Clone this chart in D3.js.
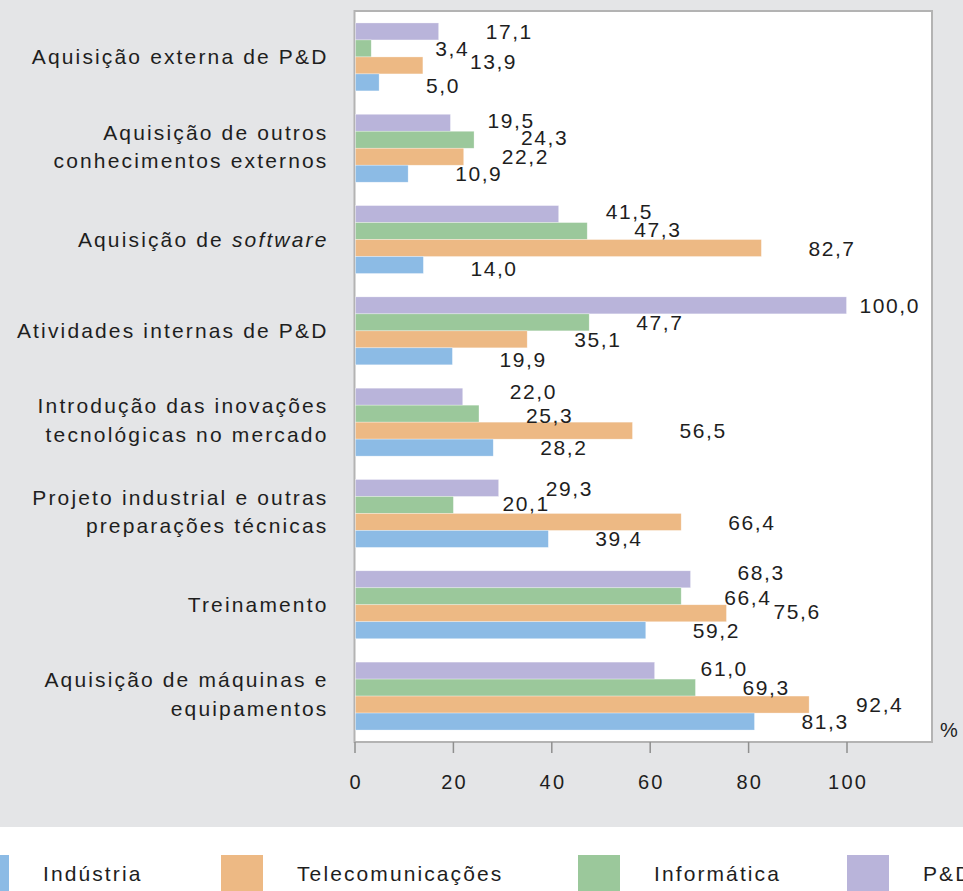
<!DOCTYPE html>
<html><head><meta charset="utf-8">
<script src="https://cdn.jsdelivr.net/npm/d3@7"></script>
<style>
html,body{margin:0;padding:0;background:#fff;}
svg{display:block;font-family:"Liberation Sans",Arial,sans-serif;}
</style></head>
<body>
<script>
// ---- data ----
const categories = [
  "Aquisição externa de P&D",
  "Aquisição de outros|conhecimentos externos",
  "Aquisição de *software*",
  "Atividades internas de P&D",
  "Introdução das inovações|tecnológicas no mercado",
  "Projeto industrial e outras|preparações técnicas",
  "Treinamento",
  "Aquisição de máquinas e|equipamentos"
];
const seriesNames = ["Indústria", "Telecomunicações", "Informática", "P&D"];
const industria    = [5.0, 10.9, 14.0, 19.9, 28.2, 39.4, 59.2, 81.3];
const telecom      = [13.9, 22.2, 82.7, 35.1, 56.5, 66.4, 75.6, 92.4];
const informatica  = [3.4, 24.3, 47.3, 47.7, 25.3, 20.1, 66.4, 69.3];
const pd           = [17.1, 19.5, 41.5, 100.0, 22.0, 29.3, 68.3, 61.0];
const xTicks = [0, 20, 40, 60, 80, 100];
const unitLabel = "%";

const seriesValues = {"Indústria": industria, "Telecomunicações": telecom, "Informática": informatica, "P&D": pd};
const colors = {"Indústria": "#8cbbe5", "Telecomunicações": "#edb984", "Informática": "#9bc89b", "P&D": "#b9b4da"};

// ---- layout ----
const W = 963, H = 891;
const plot = {left: 354.5, right: 932, top: 11, bottom: 742};
const svg = d3.select("body").append("svg").attr("width", W).attr("height", H);

svg.append("rect").attr("x", 0).attr("y", 0).attr("width", W).attr("height", 827).attr("fill", "#e4e5e7");
svg.append("rect").attr("x", 0).attr("y", 827).attr("width", W).attr("height", H - 827).attr("fill", "#ffffff");

const x = d3.scaleLinear().domain([0, 100]).range([plot.left, 846.5]);
const y0 = d3.scaleBand().domain(d3.range(categories.length)).range([plot.top, plot.bottom])
  .paddingInner(0.256).paddingOuter(0.131);
const barOrder = ["P&D", "Informática", "Telecomunicações", "Indústria"];
const y1 = d3.scaleBand().domain(barOrder).range([0, y0.bandwidth()]).padding(0);

// plot frame
svg.append("rect").attr("x", plot.left).attr("y", plot.top)
  .attr("width", plot.right - plot.left).attr("height", plot.bottom - plot.top)
  .attr("fill", "#ffffff").attr("stroke", "#b3b3b3").attr("stroke-width", 2);

// bars
const rows = [];
categories.forEach((c, i) => barOrder.forEach(s => rows.push({i, s, v: seriesValues[s][i]})));

svg.append("g").selectAll("rect").data(rows).join("rect")
  .attr("x", plot.left + 1)
  .attr("y", d => y0(d.i) + y1(d.s))
  .attr("width", d => x(d.v) - plot.left - 1)
  .attr("height", y1.bandwidth())
  .attr("fill", d => colors[d.s])
  .attr("stroke", "#ffffff").attr("stroke-opacity", 0.5).attr("stroke-width", 0.6);

// value labels (placement nudges to mimic reference layout)
const nudge = {
  "0|Informática": [17, 0], "0|Telecomunicações": [0, -4], "0|Indústria": [0, 3],
  "1|P&D": [-10, -2], "1|Telecomunicações": [-9, 0], "1|Informática": [0, -2],
  "2|P&D": [0, -3], "2|Informática": [0, -2], "2|Indústria": [0, 3],
  "3|P&D": [-34, 0], "3|Indústria": [0, 3],
  "4|P&D": [0, -5], "4|Informática": [0, 2],
  "5|Informática": [2, -2],
  "6|P&D": [0, -7], "6|Informática": [-4, 1], "6|Telecomunicações": [0, -2],
  "7|P&D": [-1, -2]
};
const fmt = v => v.toFixed(1).replace(".", ",");
svg.append("g").selectAll("text").data(rows).join("text")
  .attr("x", d => x(d.v) + 47 + ((nudge[d.i + "|" + d.s] || [0, 0])[0]))
  .attr("y", d => y0(d.i) + y1(d.s) + y1.bandwidth() / 2 + ((nudge[d.i + "|" + d.s] || [0, 0])[1]))
  .attr("dy", "0.36em")
  .attr("font-size", 21).attr("letter-spacing", 1.6).attr("fill", "#1e1e1e")
  .text(d => fmt(d.v));

// category labels
const catG = svg.append("g");
categories.forEach((c, i) => {
  const lines = c.split("|");
  const cy = y0(i) + y0.bandwidth() / 2;
  const lh = 28.5;
  lines.forEach((ln, k) => {
    const t = catG.append("text")
      .attr("x", 328.5).attr("y", cy + (k - (lines.length - 1) / 2) * lh - (lines.length > 1 ? 2 : 0))
      .attr("dy", "0.36em").attr("text-anchor", "end")
      .attr("font-size", 21).attr("letter-spacing", 2.15).attr("fill", "#1e1e1e");
    ln.split("*").forEach((part, j) => {
      if (!part) return;
      t.append("tspan").attr("font-style", j % 2 ? "italic" : "normal").text(part);
    });
  });
});

// x axis ticks
const axis = svg.append("g").attr("transform", `translate(0,${plot.bottom})`)
  .call(d3.axisBottom(x).tickValues(xTicks).tickSize(11).tickPadding(22).tickFormat(d3.format("d")));
axis.select(".domain").remove();
axis.selectAll(".tick line").attr("stroke", "#8f8f8f").attr("stroke-width", 1.5);
axis.selectAll(".tick text").attr("font-size", 20).attr("letter-spacing", 2.2).attr("dx", 1.1)
  .attr("fill", "#1e1e1e").attr("font-family", "'Liberation Sans', Arial, sans-serif");

svg.append("text").attr("x", 940).attr("y", 730).attr("dy", "0.36em")
  .attr("font-size", 20).attr("fill", "#1e1e1e").text(unitLabel);

// legend
const legendX = [-33, 221, 578, 847];
const legendOrder = ["Indústria", "Telecomunicações", "Informática", "P&D"];
const lg = svg.append("g");
legendOrder.forEach((s, k) => {
  lg.append("rect").attr("x", legendX[k]).attr("y", 855).attr("width", 42).attr("height", 40)
    .attr("fill", colors[s]);
  lg.append("text").attr("x", legendX[k] + 76).attr("y", 873.5).attr("dy", "0.36em")
    .attr("font-size", 21).attr("letter-spacing", 2.1).attr("fill", "#1e1e1e").text(s);
});
</script>
</body></html>
